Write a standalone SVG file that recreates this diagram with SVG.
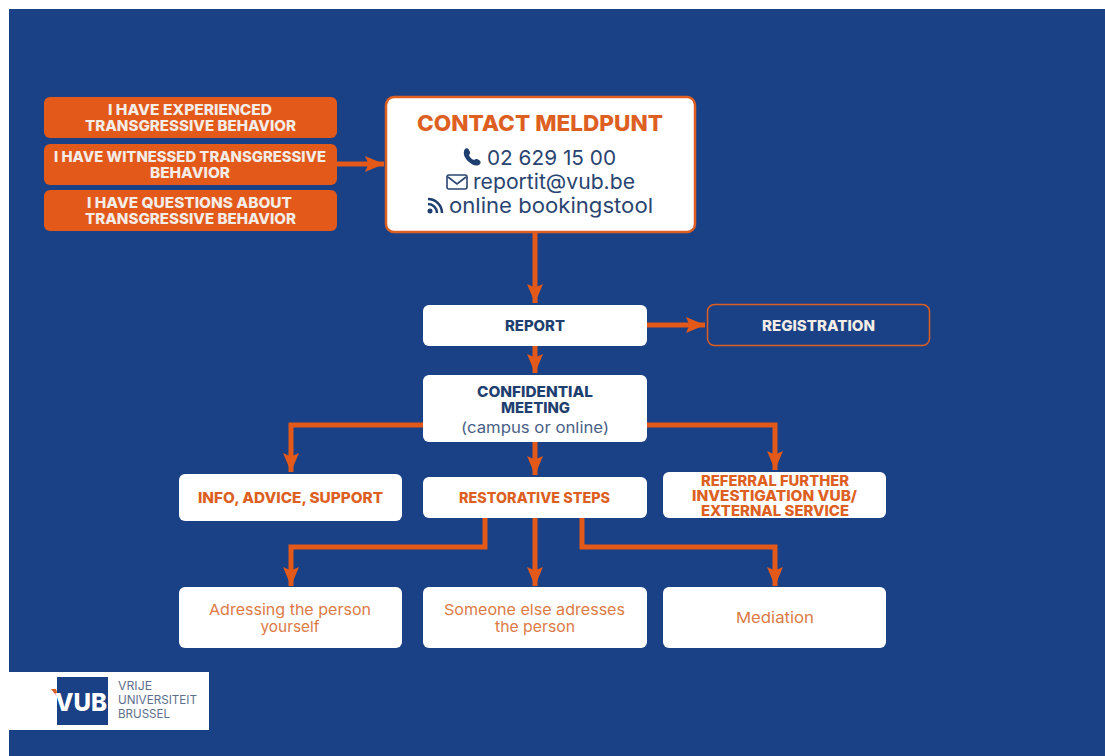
<svg xmlns="http://www.w3.org/2000/svg" width="1105" height="756" viewBox="0 0 1105 756">
<style>
text{text-anchor:middle;font-family:Inter,"Liberation Sans",Arial,sans-serif}
.w{fill:#f4ece6}
.o{fill:#dd5f22}
.n{fill:#1f3f70}
.t{font-size:14.500px;font-weight:800}
.l{font-size:15px;fill:#dc7a45}
.r{font-size:20.500px;fill:#2a4470}
.box{fill:#fff}
.org{fill:#e2591a}
.c{fill:none;stroke:#e2591a;stroke-width:5;stroke-linejoin:miter}
.s{text-anchor:start;fill:#5d6f8c;font-size:11.500px}
</style>
<defs>
<marker id="a" markerUnits="userSpaceOnUse" markerWidth="20" markerHeight="20" refX="19" refY="10" orient="auto">
<path d="M0 2L19 10L0 18L3.500 10Z" fill="#e2591a"/>
</marker>
</defs>
<rect width="1105" height="756" fill="#fff"/>
<rect x="9" y="9" width="1096" height="747" fill="#1a4085"/>
<g id="connectors">
<path class="c" marker-end="url(#a)" d="M337 164H384"/>
<path class="c" marker-end="url(#a)" d="M535 232V303"/>
<path class="c" marker-end="url(#a)" d="M647 325H705"/>
<path class="c" marker-end="url(#a)" d="M535 346V373"/>
<path class="c" marker-end="url(#a)" d="M423 425H291V472"/>
<path class="c" marker-end="url(#a)" d="M647 425H775V470"/>
<path class="c" marker-end="url(#a)" d="M535 442V475"/>
<path class="c" marker-end="url(#a)" d="M485 518V547H291V586"/>
<path class="c" marker-end="url(#a)" d="M535 518V586"/>
<path class="c" marker-end="url(#a)" d="M582 518V547H775V586"/>
</g>
<g id="experienced"><rect class="org" x="44" y="97" width="293" height="41" rx="6"/><text class="w t" x="190" y="115" textLength="164" lengthAdjust="spacingAndGlyphs">I HAVE EXPERIENCED</text><text class="w t" x="190.500" y="131" textLength="211" lengthAdjust="spacingAndGlyphs">TRANSGRESSIVE BEHAVIOR</text></g>
<g id="witnessed"><rect class="org" x="44" y="144" width="293" height="41" rx="6"/><text class="w t" x="190" y="162" textLength="272" lengthAdjust="spacingAndGlyphs">I HAVE WITNESSED TRANSGRESSIVE</text><text class="w t" x="190" y="178" textLength="80" lengthAdjust="spacingAndGlyphs">BEHAVIOR</text></g>
<g id="questions"><rect class="org" x="44" y="190" width="293" height="41" rx="6"/><text class="w t" x="189.500" y="208" textLength="205" lengthAdjust="spacingAndGlyphs">I HAVE QUESTIONS ABOUT</text><text class="w t" x="190.500" y="224" textLength="211" lengthAdjust="spacingAndGlyphs">TRANSGRESSIVE BEHAVIOR</text></g>
<g id="contact">
<rect x="386" y="97" width="309" height="135" rx="8" fill="#fff" stroke="#dd5f22" stroke-width="2.500"/>
<text class="o" x="540" y="131" font-size="22" font-weight="800" textLength="246" lengthAdjust="spacingAndGlyphs">CONTACT MELDPUNT</text>
<path fill="#1f3f70" d="M465 149c1-1 3-1 4 1l1 2c0 1 0 2-1 3c0 1 2 4 5 5c1-1 2-1 3-1l2 1c2 1 2 3 1 4c-3 3-8 1-11-2c-4-3-7-9-4-13z"/>
<text class="r" x="551.500" y="165" textLength="129" lengthAdjust="spacingAndGlyphs">02 629 15 00</text>
<rect x="447" y="175" width="20" height="14" rx="2" fill="none" stroke="#2a4470" stroke-width="1.600"/><path d="M448 177L457 184L466 177" fill="none" stroke="#2a4470" stroke-width="1.600"/>
<text class="r" x="554" y="189" textLength="162" lengthAdjust="spacingAndGlyphs">reportit@vub.be</text>
<circle cx="430" cy="211" r="2.500" fill="#1f3f70"/><path d="M428 204a9 9 0 0 1 9 9M428 199a14 14 0 0 1 14 14" fill="none" stroke="#1f3f70" stroke-width="2.500"/>
<text class="r" x="551" y="213" textLength="204" lengthAdjust="spacingAndGlyphs">online bookingstool</text>
</g>
<g id="report"><rect class="box" x="423" y="305" width="224" height="41" rx="6"/><text class="n t" x="535" y="331" textLength="60" lengthAdjust="spacingAndGlyphs">REPORT</text></g>
<g id="registration"><rect x="707.500" y="304.500" width="222" height="41" rx="7" fill="none" stroke="#dd5f22" stroke-width="1.500"/><text class="w t" x="818.500" y="331" textLength="113" lengthAdjust="spacingAndGlyphs">REGISTRATION</text></g>
<g id="meeting"><rect class="box" x="423" y="375" width="224" height="67" rx="6"/><text class="n t" x="535" y="397" textLength="116" lengthAdjust="spacingAndGlyphs">CONFIDENTIAL</text><text class="n t" x="535.500" y="413" textLength="69" lengthAdjust="spacingAndGlyphs">MEETING</text><text x="535" y="433" font-size="15" fill="#4a5f88" textLength="148" lengthAdjust="spacingAndGlyphs">(campus or online)</text></g>
<g id="info"><rect class="box" x="179" y="474" width="223" height="47" rx="6"/><text class="o t" x="290.500" y="503" textLength="185" lengthAdjust="spacingAndGlyphs">INFO, ADVICE, SUPPORT</text></g>
<g id="restorative"><rect class="box" x="423" y="477" width="224" height="41" rx="6"/><text class="o t" x="534.500" y="503" textLength="151" lengthAdjust="spacingAndGlyphs">RESTORATIVE STEPS</text></g>
<g id="referral"><rect class="box" x="663" y="472" width="223" height="46" rx="6"/><text class="o t" x="775" y="486" textLength="148" lengthAdjust="spacingAndGlyphs">REFERRAL FURTHER</text><text class="o t" x="774.500" y="501" textLength="165" lengthAdjust="spacingAndGlyphs">INVESTIGATION VUB/</text><text class="o t" x="775" y="516" textLength="148" lengthAdjust="spacingAndGlyphs">EXTERNAL SERVICE</text></g>
<g id="adressing"><rect class="box" x="179" y="587" width="223" height="61" rx="6"/><text class="l" x="290" y="615" textLength="162" lengthAdjust="spacingAndGlyphs">Adressing the person</text><text class="l" x="290" y="632" textLength="59" lengthAdjust="spacingAndGlyphs">yourself</text></g>
<g id="someone"><rect class="box" x="423" y="587" width="224" height="61" rx="6"/><text class="l" x="534.500" y="615" textLength="181" lengthAdjust="spacingAndGlyphs">Someone else adresses</text><text class="l" x="535" y="632" textLength="80" lengthAdjust="spacingAndGlyphs">the person</text></g>
<g id="mediation"><rect class="box" x="663" y="587" width="223" height="61" rx="6"/><text class="l" x="775" y="623" textLength="78" lengthAdjust="spacingAndGlyphs">Mediation</text></g>
<g id="logo">
<rect x="9" y="672" width="200" height="58" fill="#fff"/>
<rect x="57" y="677" width="51" height="48" fill="#1a4085"/>
<path d="M51 689L56 689L59 699Z" fill="#dd5f22"/>
<text x="81" y="711" font-size="25" font-weight="800" fill="#fff" textLength="52" lengthAdjust="spacingAndGlyphs">VUB</text>
<text class="s" x="118" y="690" textLength="34" lengthAdjust="spacingAndGlyphs">VRIJE</text><text class="s" x="118" y="704" textLength="79" lengthAdjust="spacingAndGlyphs">UNIVERSITEIT</text><text class="s" x="118" y="718" textLength="52" lengthAdjust="spacingAndGlyphs">BRUSSEL</text>
</g>
</svg>
